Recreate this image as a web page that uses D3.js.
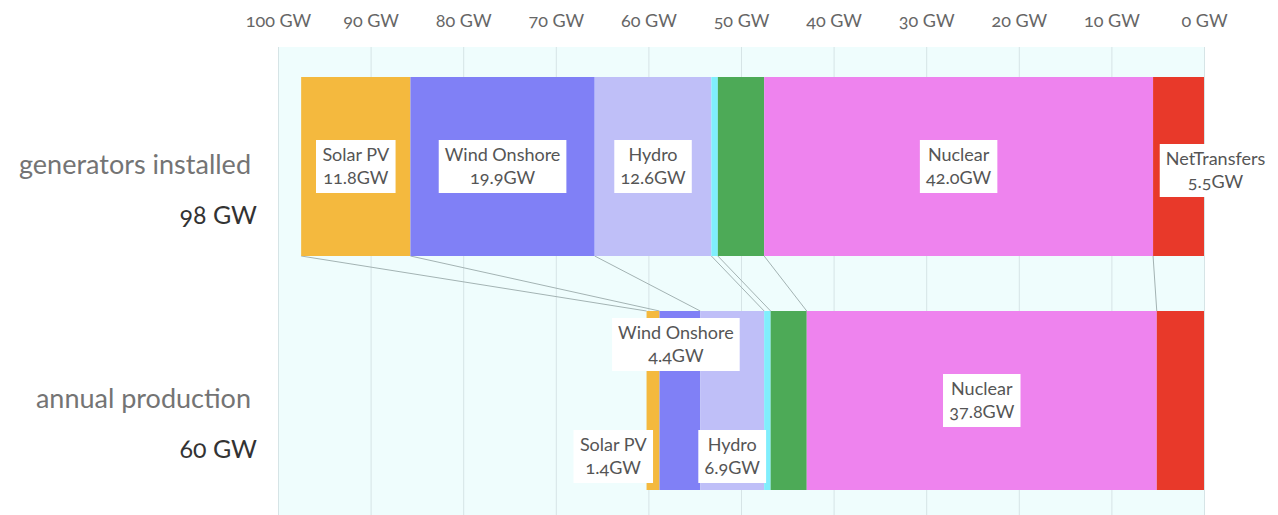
<!DOCTYPE html>
<html>
<head>
<meta charset="utf-8">
<script src="https://cdn.jsdelivr.net/npm/d3@7"></script>
<style>
  html, body { margin: 0; padding: 0; background: #ffffff; }
  svg { display: block; font-family: Lato, "Open Sans", sans-serif; font-variant-numeric: oldstyle-nums; }
</style>
</head>
<body>
<svg id="chart" width="1278" height="515"></svg>
<script>
// ---- data ----
const categories = ["Solar PV", "Wind Onshore", "Hydro", "Bioenergy", "Fossil Gas", "Nuclear", "NetTransfers"];
const installedGW = [11.8, 19.9, 12.6, 0.7, 5.0, 42.0, 5.5];
const productionGW = [1.4, 4.4, 6.9, 0.7, 3.9, 37.8, 5.1];
const rowNames = ["generators installed", "annual production"];
const rowTotals = ["98 GW", "60 GW"];
const tickValues = [100, 90, 80, 70, 60, 50, 40, 30, 20, 10, 0];
const colors = ["#f4b93e", "#8080f6", "#bfbff8", "#80eefc", "#4daa57", "#ee83ee", "#e8392a"];
// which segments get a label in each row
const labeledTop = ["Solar PV", "Wind Onshore", "Hydro", "Nuclear", "NetTransfers"];
const labeledBottom = ["Solar PV", "Wind Onshore", "Hydro", "Nuclear"];

(function () {
// ---- layout ----
const svg = d3.select("#chart");
const x = d3.scaleLinear().domain([100, 0]).range([278, 1204]);
const rows = [
  { name: rowNames[0], total: rowTotals[0], values: installedGW, y0: 77, y1: 256, labels: labeledTop },
  { name: rowNames[1], total: rowTotals[1], values: productionGW, y0: 311, y1: 490, labels: labeledBottom }
];

// stack from the right (0 GW) towards the left
rows.forEach(r => {
  let acc = 0;
  const segs = new Array(r.values.length);
  for (let i = r.values.length - 1; i >= 0; i--) {
    segs[i] = { cat: categories[i], value: r.values[i], lo: acc, hi: acc + r.values[i], color: colors[i] };
    acc += r.values[i];
  }
  r.segs = segs;
});

// background
svg.append("rect")
  .attr("x", x(100)).attr("y", 47)
  .attr("width", x(0) - x(100) + 1).attr("height", 515 - 47)
  .attr("fill", "#effdfd");

// grid lines
svg.append("g").selectAll("line").data(tickValues).join("line")
  .attr("x1", d => x(d) + 0.5).attr("x2", d => x(d) + 0.5)
  .attr("y1", 47).attr("y2", 515)
  .attr("stroke", "#d6e4e6").attr("stroke-width", 1);

// axis on top
const axis = d3.axisTop(x).tickValues(tickValues).tickSize(0).tickPadding(0)
  .tickFormat(d => d + " GW");
const ag = svg.append("g").attr("transform", "translate(0,27)").call(axis);
ag.select(".domain").remove();
ag.selectAll("text").attr("fill", "#666").attr("font-size", 18).attr("font-family", "Lato, sans-serif");

// connectors between rows (each inner boundary of the top row to the matching one below)
const rowA = rows[0], rowB = rows[1];
const connectors = rowA.segs.map((s, i) => ({ xa: x(s.hi), xb: x(rowB.segs[i].hi) }));
svg.append("g").selectAll("line").data(connectors).join("line")
  .attr("x1", d => d.xa).attr("y1", rowA.y1)
  .attr("x2", d => d.xb).attr("y2", rowB.y0)
  .attr("stroke", "#a3b3b3").attr("stroke-width", 1);

// bars
rows.forEach(r => {
  svg.append("g").selectAll("rect").data(r.segs).join("rect")
    .attr("x", d => x(d.hi)).attr("y", r.y0)
    .attr("width", d => x(d.lo) - x(d.hi)).attr("height", r.y1 - r.y0)
    .attr("fill", d => d.color);
});

// row titles
rows.forEach(r => {
  svg.append("text").attr("x", 251).attr("y", r.y0 + 97)
    .attr("text-anchor", "end").attr("font-size", 27).attr("fill", "#747474")
    .text(r.name);
  svg.append("text").attr("x", 257).attr("y", r.y0 + 147)
    .attr("text-anchor", "end").attr("font-size", 25).attr("fill", "#333")
    .text(r.total);
});

// segment labels
const placement = {
  0: { "NetTransfers": { dx: 37, v: "mid", dy: 4 } },
  1: { "Solar PV": { h: "end", v: "bottom" }, "Wind Onshore": { dx: -4, v: "top" }, "Hydro": { v: "bottom" } }
};
rows.forEach((r, ri) => {
  r.segs.filter(s => r.labels.includes(s.cat)).forEach(s => {
    const p = (placement[ri] && placement[ri][s.cat]) || {};
    const g = svg.append("g");
    const t = g.append("text").attr("text-anchor", "middle").attr("font-size", 18).attr("fill", "#555");
    t.append("tspan").attr("x", 0).attr("dy", 0).text(s.cat);
    t.append("tspan").attr("x", 0).attr("dy", 23).text(s.value.toFixed(1) + "GW");
    const bb = t.node().getBBox();
    const padX = 6, boxH = 53;
    const bw = bb.width + 2 * padX;
    let cx = (x(s.hi) + x(s.lo)) / 2 + (p.dx || 0);
    if (p.h === "end") cx -= bw / 2;
    let by;
    if (p.v === "top") by = r.y0 + 7;
    else if (p.v === "bottom") by = r.y1 - 7 - boxH;
    else by = (r.y0 + r.y1) / 2 - boxH / 2 + (p.dy || 0);
    g.insert("rect", "text")
      .attr("x", cx - bw / 2).attr("y", by)
      .attr("width", bw).attr("height", boxH)
      .attr("fill", "#ffffff");
    t.attr("transform", `translate(${cx},${by + 21})`);
  });
});
})();
</script>
</body>
</html>
